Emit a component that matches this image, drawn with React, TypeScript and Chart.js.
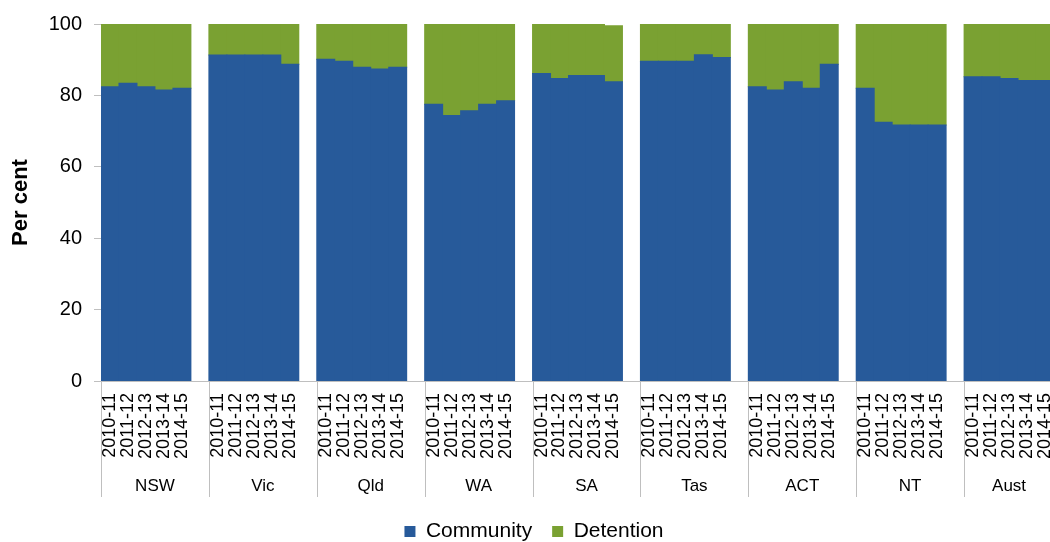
import React, { useEffect, useRef } from 'react';
import { Chart, registerables } from 'chart.js';

Chart.register(...registerables);

// Jurisdictions along the category axis, each with five financial years
const jurisdictions = ['NSW', 'Vic', 'Qld', 'WA', 'SA', 'Tas', 'ACT', 'NT', 'Aust'];
const years = ['2010-11', '2011-12', '2012-13', '2013-14', '2014-15'];
const yTicks = [0, 20, 40, 60, 80, 100];

// Share of young people under supervision, per cent (rows follow jurisdictions)
const communityPct = [
  [82.4, 83.4, 82.4, 81.5, 82.0],
  [91.3, 91.3, 91.3, 91.3, 88.7],
  [90.1, 89.6, 87.9, 87.4, 87.9],
  [77.5, 74.4, 75.7, 77.5, 78.5],
  [86.1, 84.7, 85.6, 85.6, 83.8],
  [89.6, 89.6, 89.6, 91.4, 90.6],
  [82.4, 81.5, 83.8, 82.0, 88.7],
  [82.0, 72.5, 71.7, 71.7, 71.7],
  [85.2, 85.2, 84.7, 84.2, 84.2],
];

const detentionPct = [
  [17.6, 16.6, 17.6, 18.5, 18.0],
  [8.7, 8.7, 8.7, 8.7, 11.3],
  [9.9, 10.4, 12.1, 12.6, 12.1],
  [22.5, 25.6, 24.3, 22.5, 21.5],
  [13.9, 15.3, 14.4, 14.4, 15.7],
  [10.4, 10.4, 10.4, 8.6, 9.4],
  [17.6, 18.5, 16.2, 18.0, 11.3],
  [18.0, 27.5, 28.3, 28.3, 28.3],
  [14.8, 14.8, 15.3, 15.8, 15.8],
];

const BLUE = '#275a9a';
const GREEN = '#7aa132';
const AXIS_GREY = '#bfbfbf';
const FONT = '"Liberation Sans", Arial, sans-serif';

// Flatten into one category list, with an empty slot between jurisdictions
const slotLabels: string[] = [];
const communityData: (number | null)[] = [];
const detentionData: (number | null)[] = [];
const groupStarts: number[] = [];
jurisdictions.forEach((_, g) => {
  groupStarts.push(slotLabels.length);
  years.forEach((yr, k) => {
    slotLabels.push(yr);
    communityData.push(communityPct[g][k]);
    detentionData.push(detentionPct[g][k]);
  });
  if (g < jurisdictions.length - 1) {
    slotLabels.push('');
    communityData.push(null);
    detentionData.push(null);
  }
});

// Draws the jurisdiction separators and names beneath the year labels
const groupAxisPlugin = {
  id: 'groupAxis',
  afterDraw(chart: any) {
    const { ctx } = chart;
    const x = chart.scales.x;
    const half = (x.getPixelForValue(1) - x.getPixelForValue(0)) / 2;
    const bounds = groupStarts.map((s) => x.getPixelForValue(s) - half);
    bounds.push(x.right);
    ctx.save();
    ctx.strokeStyle = AXIS_GREY;
    ctx.lineWidth = 1;
    bounds.forEach((b) => {
      const px = Math.round(b) + 0.5;
      ctx.beginPath();
      ctx.moveTo(px, x.top);
      ctx.lineTo(px, x.top + 116);
      ctx.stroke();
    });
    ctx.fillStyle = '#000';
    ctx.font = `17px ${FONT}`;
    ctx.textAlign = 'center';
    ctx.textBaseline = 'middle';
    jurisdictions.forEach((name, g) => {
      ctx.fillText(name, (bounds[g] + bounds[g + 1]) / 2, x.top + 105);
    });
    ctx.restore();
  },
};

export default function App() {
  const canvasRef = useRef<HTMLCanvasElement | null>(null);

  useEffect(() => {
    if (!canvasRef.current) return;
    Chart.defaults.font.family = FONT;
    const chart = new Chart(canvasRef.current, {
      type: 'bar',
      data: {
        labels: slotLabels,
        datasets: [
          {
            label: 'Community',
            data: communityData,
            backgroundColor: BLUE,
            borderWidth: 0,
            inflateAmount: 0.5,
            barPercentage: 1,
            categoryPercentage: 1,
          },
          {
            label: 'Detention',
            data: detentionData,
            backgroundColor: GREEN,
            borderWidth: 0,
            inflateAmount: 0.5,
            barPercentage: 1,
            categoryPercentage: 1,
          },
        ],
      },
      options: {
        responsive: false,
        animation: false,
        layout: { padding: { top: 24, right: 27, left: 14, bottom: 0 } },
        plugins: {
          tooltip: { enabled: false },
          legend: {
            position: 'bottom',
            labels: {
              boxWidth: 11,
              boxHeight: 11,
              padding: 20,
              color: '#000',
              font: { size: 21 },
            },
          },
        },
        scales: {
          x: {
            stacked: true,
            grid: { display: false, drawTicks: false },
            border: { display: true, color: AXIS_GREY },
            ticks: {
              autoSkip: false,
              minRotation: 90,
              maxRotation: 90,
              padding: 12,
              color: '#000',
              font: { size: 18 },
            },
            afterFit: (s: any) => {
              s.height = 120;
              s.paddingLeft = 0;
              s.paddingRight = 0;
            },
          },
          y: {
            stacked: true,
            min: 0,
            max: 100,
            afterBuildTicks: (s: any) => {
              s.ticks = yTicks.map((v) => ({ value: v }));
            },
            grid: { drawOnChartArea: false, drawTicks: true, tickLength: 7, color: AXIS_GREY },
            border: { color: AXIS_GREY },
            ticks: { padding: 12, color: '#000', font: { size: 20 } },
            title: {
              display: true,
              text: 'Per cent',
              color: '#000',
              font: { size: 22, weight: 'bold' },
              padding: { top: -6, bottom: 0 },
            },
            afterFit: (s: any) => {
              s.width = 87;
            },
          },
        },
      },
      plugins: [groupAxisPlugin],
    });
    return () => chart.destroy();
  }, []);

  return (
    <div
      style={{
        position: 'fixed',
        left: 0,
        top: 0,
        width: 1050,
        height: 542,
        overflow: 'hidden',
        background: '#fff',
      }}
    >
      <canvas ref={canvasRef} width={1081} height={552} style={{ display: 'block', width: 1081, height: 552 }} />
    </div>
  );
}
